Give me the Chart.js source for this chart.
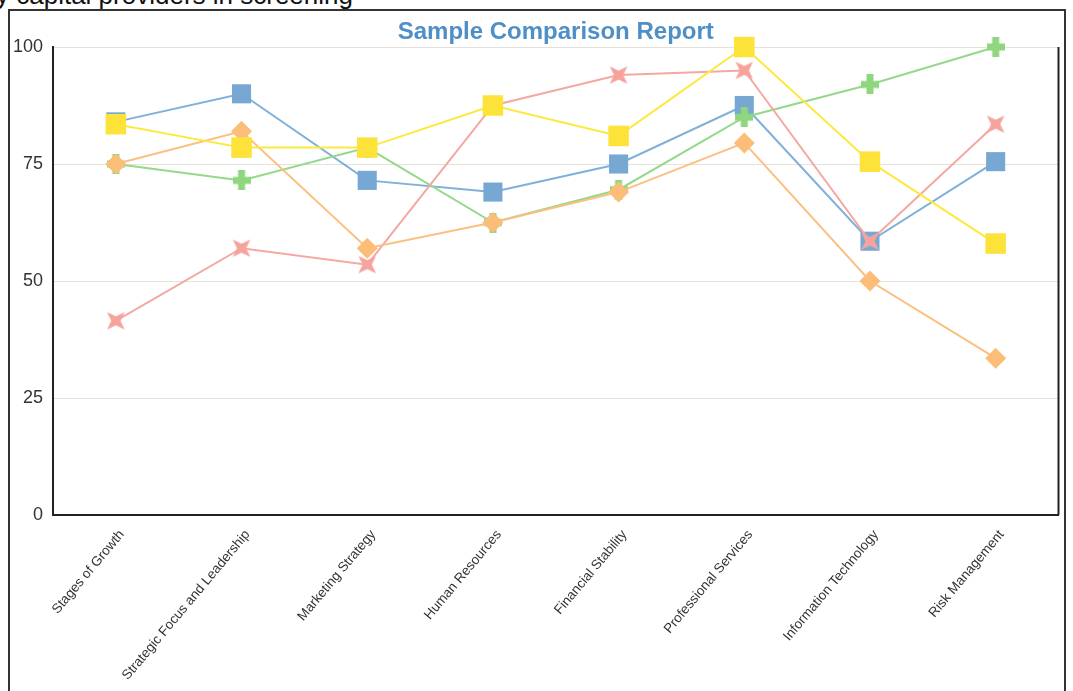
<!DOCTYPE html>
<html>
<head>
<meta charset="utf-8">
<script src="https://cdn.jsdelivr.net/npm/chart.js@4.4.0/dist/chart.umd.min.js"></script>
<style>
  html, body { margin: 0; padding: 0; background: #ffffff; width: 1073px; height: 691px; overflow: hidden; }
  #wrap { position: relative; width: 1073px; height: 691px; }
  #topline { position: absolute; left: -4px; top: -18px; font-family: "Liberation Sans", Arial, sans-serif; font-size: 26px; line-height: 26px; color: #111; white-space: nowrap; }
  #frame { position: absolute; left: 8px; top: 9px; width: 1058px; height: 720px; border: 2px solid #333; box-sizing: border-box; }
  canvas { position: absolute; left: 0; top: 0; }
</style>
</head>
<body>
<div id="wrap">
  <div id="topline">y capital providers in screening</div>
  <div id="frame"></div>
  <canvas id="c" width="1073" height="691"></canvas>
</div>
<script>
const categories = ["Stages of Growth", "Strategic Focus and Leadership", "Marketing Strategy", "Human Resources", "Financial Stability", "Professional Services", "Information Technology", "Risk Management"];
const blueValues   = [84, 90, 71.5, 69, 75, 87.5, 58.5, 75.5];
const yellowValues = [83.5, 78.5, 78.5, 87.5, 81, 100, 75.5, 58];
const greenValues  = [75, 71.5, 78.5, 62.5, 69.5, 85, 92, 100];
const orangeValues = [75, 82, 57, 62.5, 69, 79.5, 50, 33.5];
const pinkValues   = [41.5, 57, 53.5, 87.5, 94, 95, 58.5, 83.5];
const yTicks = [0, 25, 50, 75, 100];
const titleText = "Sample Comparison Report";

function starCanvas(color) {
  const s = 26, c = document.createElement('canvas');
  c.width = s; c.height = s;
  const g = c.getContext('2d');
  g.fillStyle = color;
  g.beginPath();
  const cx = s / 2, cy = s / 2, R = 12.5, r = 4.6;
  for (let i = 0; i < 8; i++) {
    const a = Math.PI / 4 + i * Math.PI / 4;
    const rad = (i % 2 === 0) ? R : r;
    const x = cx + rad * Math.cos(a), y = cy + rad * Math.sin(a);
    if (i === 0) g.moveTo(x, y); else g.lineTo(x, y);
  }
  g.closePath();
  g.fill();
  return c;
}
function plusCanvas(color) {
  const w = 18, h = 20, t = 7, c = document.createElement('canvas');
  c.width = w; c.height = h;
  const g = c.getContext('2d');
  g.fillStyle = color;
  g.fillRect((w - t) / 2, 0, t, h);
  g.fillRect(0, (h - t) / 2, w, t);
  return c;
}

const plotBorder = {
  id: 'plotBorder',
  afterDraw(chart) {
    const a = chart.chartArea, ctx = chart.ctx;
    ctx.save();
    ctx.strokeStyle = '#222';
    ctx.lineWidth = 2;
    ctx.beginPath();
    ctx.moveTo(a.right, a.top);
    ctx.lineTo(a.right, a.bottom);
    ctx.stroke();
    ctx.restore();
  }
};

const ds = (label, data, line, fill, style, radius, extra) => Object.assign({
  label, data,
  borderColor: line, backgroundColor: fill,
  pointBackgroundColor: fill, pointBorderColor: fill,
  pointStyle: style, pointRadius: radius, pointHoverRadius: radius,
  pointBorderWidth: 0, borderWidth: 2, tension: 0, clip: false
}, extra || {});

new Chart(document.getElementById('c'), {
  type: 'line',
  data: {
    labels: categories,
    datasets: [
      ds('Yellow', yellowValues, '#fde93c', '#fde23a', 'rect', 14.5),
      ds('Orange', orangeValues, '#fbbf80', '#fbbd78', 'rectRot', 10.5),
      ds('Pink', pinkValues, '#f4a8a2', '#f5a39c', starCanvas('#f5a39c'), 12),
      ds('Green', greenValues, '#94d98a', '#8fd67e', plusCanvas('#8fd67e'), 10),
      ds('Blue', blueValues, '#7eb0da', '#76a8d3', 'rect', 13.5)
    ]
  },
  options: {
    responsive: false,
    animation: false,
    events: [],
    layout: { padding: { left: 0, right: 14, top: 0, bottom: 0 } },
    plugins: {
      legend: { display: false },
      tooltip: { enabled: false },
      title: {
        display: true,
        fullSize: false,
        text: titleText,
        color: '#4f8fc6',
        font: { family: 'Liberation Sans, Arial, sans-serif', size: 24, weight: 'bold', lineHeight: 1.2 },
        padding: { top: 17.6, bottom: 0.6 }
      }
    },
    scales: {
      x: {
        offset: true,
        grid: { display: false, drawTicks: false },
        border: { display: true, color: '#222', width: 2 },
        ticks: {
          maxRotation: 50, minRotation: 50, autoSkip: false,
          padding: 12, labelOffset: 6,
          color: '#333',
          font: { family: 'Liberation Sans, Arial, sans-serif', size: 13.5 }
        },
        afterFit(s) { s.height = 176; }
      },
      y: {
        min: 0, max: 100,
        afterBuildTicks(s) { s.ticks = yTicks.map(v => ({ value: v })); },
        grid: { color: '#e6e1d9', lineWidth: 1, drawTicks: false },
        border: { display: true, color: '#222', width: 2 },
        ticks: {
          padding: 10,
          color: '#333',
          font: { family: 'Liberation Sans, Arial, sans-serif', size: 18 }
        },
        afterFit(s) { s.width = 53; }
      }
    }
  },
  plugins: [plotBorder]
});
</script>
</body>
</html>
